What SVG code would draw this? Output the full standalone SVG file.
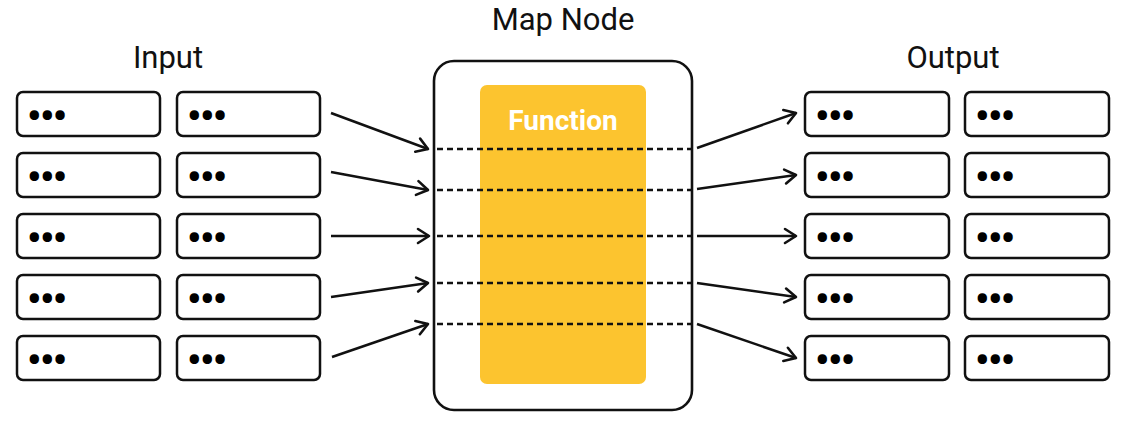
<svg xmlns="http://www.w3.org/2000/svg" width="1129" height="426" viewBox="0 0 1129 426">
<style>
.box{fill:#fff;stroke:#111;stroke-width:2.5}
.dots{font-family:Roboto,"Liberation Sans",sans-serif;font-weight:bold;font-size:40px;fill:#000;letter-spacing:-1.5px}
.title{font-family:Roboto,"Liberation Sans",sans-serif;font-size:31px;fill:#111;text-anchor:middle}
.dash{stroke:#111;stroke-width:2.6;stroke-dasharray:6 4;fill:none}
.arr{stroke:#111;stroke-width:2.5;fill:none;marker-end:url(#ah)}
</style>
<defs>
<marker id="ah" markerUnits="userSpaceOnUse" markerWidth="16" markerHeight="20" refX="13" refY="9" orient="auto" overflow="visible">
<path d="M2,2 L13,9 L2,16" fill="none" stroke="#111" stroke-width="2.6" stroke-linecap="round" stroke-linejoin="round"/>
</marker>
</defs>
<rect width="1129" height="426" fill="#fff"/>
<text class="title" x="168" y="68">Input</text>
<text class="title" x="563" y="30" font-size="32">Map Node</text>
<text class="title" x="953" y="68">Output</text>

<g id="input">
<g id="in-1"><rect class="box" x="17" y="92" width="143" height="44" rx="6"/><text class="dots" x="27" y="130">•••</text><rect class="box" x="177" y="92" width="143" height="44" rx="6"/><text class="dots" x="187" y="130">•••</text></g>
<g id="in-2"><rect class="box" x="17" y="153" width="143" height="44" rx="6"/><text class="dots" x="27" y="191">•••</text><rect class="box" x="177" y="153" width="143" height="44" rx="6"/><text class="dots" x="187" y="191">•••</text></g>
<g id="in-3"><rect class="box" x="17" y="214" width="143" height="44" rx="6"/><text class="dots" x="27" y="252">•••</text><rect class="box" x="177" y="214" width="143" height="44" rx="6"/><text class="dots" x="187" y="252">•••</text></g>
<g id="in-4"><rect class="box" x="17" y="275" width="143" height="44" rx="6"/><text class="dots" x="27" y="313">•••</text><rect class="box" x="177" y="275" width="143" height="44" rx="6"/><text class="dots" x="187" y="313">•••</text></g>
<g id="in-5"><rect class="box" x="17" y="336" width="143" height="44" rx="6"/><text class="dots" x="27" y="374">•••</text><rect class="box" x="177" y="336" width="143" height="44" rx="6"/><text class="dots" x="187" y="374">•••</text></g>
</g>

<g id="output">
<g id="out-1"><rect class="box" x="805" y="92" width="144" height="44" rx="6"/><text class="dots" x="815" y="130">•••</text><rect class="box" x="965" y="92" width="144" height="44" rx="6"/><text class="dots" x="975" y="130">•••</text></g>
<g id="out-2"><rect class="box" x="805" y="153" width="144" height="44" rx="6"/><text class="dots" x="815" y="191">•••</text><rect class="box" x="965" y="153" width="144" height="44" rx="6"/><text class="dots" x="975" y="191">•••</text></g>
<g id="out-3"><rect class="box" x="805" y="214" width="144" height="44" rx="6"/><text class="dots" x="815" y="252">•••</text><rect class="box" x="965" y="214" width="144" height="44" rx="6"/><text class="dots" x="975" y="252">•••</text></g>
<g id="out-4"><rect class="box" x="805" y="275" width="144" height="44" rx="6"/><text class="dots" x="815" y="313">•••</text><rect class="box" x="965" y="275" width="144" height="44" rx="6"/><text class="dots" x="975" y="313">•••</text></g>
<g id="out-5"><rect class="box" x="805" y="336" width="144" height="44" rx="6"/><text class="dots" x="815" y="374">•••</text><rect class="box" x="965" y="336" width="144" height="44" rx="6"/><text class="dots" x="975" y="374">•••</text></g>
</g>

<g id="map-node">
<rect x="434" y="61" width="258" height="349" rx="20" fill="#fff" stroke="#111" stroke-width="2.6"/>
<g id="function">
<rect x="480" y="85" width="166" height="299" rx="7" fill="#FCC42F"/>
<text x="563" y="130" font-family="Roboto,'Liberation Sans',sans-serif" font-weight="bold" font-size="28" fill="#fff" text-anchor="middle">Function</text>
</g>
</g>

<g id="connectors">
<line class="dash" x1="437" y1="149" x2="691" y2="149"/>
<line class="dash" x1="437" y1="190" x2="691" y2="190"/>
<line class="dash" x1="437" y1="236" x2="691" y2="236"/>
<line class="dash" x1="437" y1="283" x2="691" y2="283"/>
<line class="dash" x1="437" y1="324" x2="691" y2="324"/>
<line class="arr" x1="331" y1="113" x2="428" y2="149"/>
<line class="arr" x1="331" y1="172" x2="428" y2="190"/>
<line class="arr" x1="331" y1="236" x2="429" y2="236"/>
<line class="arr" x1="331" y1="297" x2="428" y2="283"/>
<line class="arr" x1="332" y1="357" x2="428" y2="324"/>
<line class="arr" x1="697" y1="148" x2="796" y2="113"/>
<line class="arr" x1="697" y1="189" x2="796" y2="175"/>
<line class="arr" x1="697" y1="236" x2="796" y2="236"/>
<line class="arr" x1="697" y1="283" x2="796" y2="297"/>
<line class="arr" x1="697" y1="324" x2="796" y2="358"/>
</g>
</svg>
